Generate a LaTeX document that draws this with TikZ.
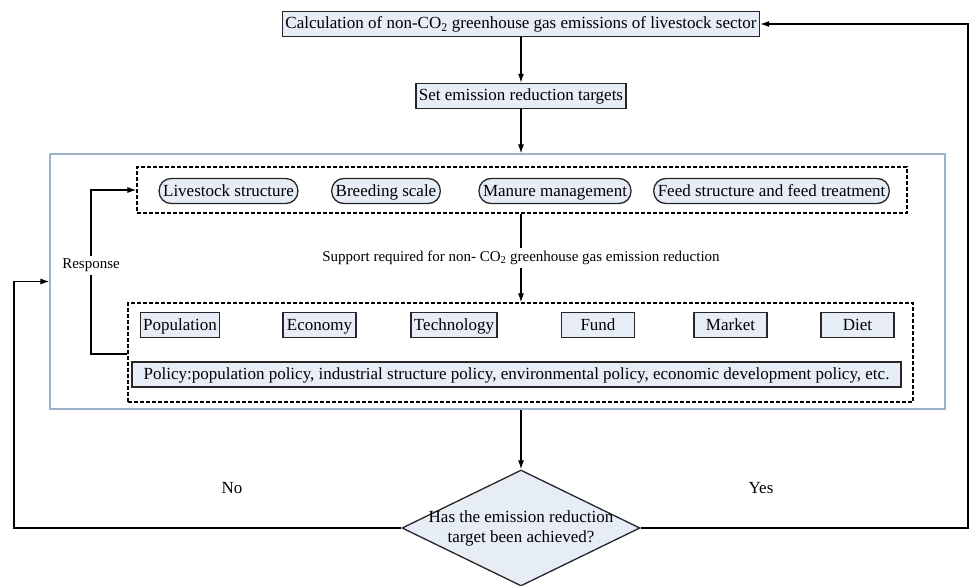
\documentclass[tikz,border=0pt]{standalone}
\usepackage{fontspec}
\setmainfont{Liberation Serif}
\usepackage{tikz}
\usetikzlibrary{calc, arrows.meta, shapes, positioning}
\tikzset{>={Latex[length=9pt,width=6pt]}}
\definecolor{myfill}{RGB}{231, 237, 247}
\definecolor{myframe}{RGB}{155, 178, 202}
\tikzset{
  box/.style={draw=black!85, line width=1.3pt, fill=myfill, inner sep=3pt, text height=13pt, text depth=3pt, minimum height=25pt},
  pill/.style={box, rounded corners=12pt, inner xsep=4pt},
  factor/.style={box, minimum width=73pt},
  group/.style={draw, dash pattern=on 4pt off 2pt, line width=1.2pt},
  decision/.style={diamond, draw=black!85, line width=1.3pt, fill=myfill, minimum width=238pt, minimum height=116pt, inner sep=0pt},
  smalltext/.style={font=\fontsize{15}{18}\selectfont}
}

\begin{document}
\begin{tikzpicture}[x=1pt, y=-1pt, line width=1.2pt, every node/.style={font=\fontsize{17}{20}\selectfont}]
\useasboundingbox (0,0) rectangle (970,586);
\node[box] (calc) at (521,24) {Calculation of non-CO\textsubscript{2} greenhouse gas emissions of livestock sector};
\node[box] (target) at (521,96) {Set emission reduction targets};
\node[draw=myframe, minimum width=895pt, minimum height=255pt] (frame) at (497.5,281.5) {};
\node[group, minimum width=770pt, minimum height=46pt] (upper) at (522,190) {};
\node[group, minimum width=785pt, minimum height=99pt] (lower) at (520.5,352.5) {};
% measures
\node[pill] (livestock) at (228.5,191) {Livestock structure};
\node[pill] (breeding) at (386,191) {Breeding scale};
\node[pill] (manure) at (555,191) {Manure management};
\node[pill] (feed) at (771.5,191) {Feed structure and feed treatment};
% support
\node[factor] (population) at (180,325) {Population};
\node[factor] (economy) at (319.5,325) {Economy};
\node[factor] (technology) at (454,325) {Technology};
\node[factor] (fund) at (598,325) {Fund};
\node[factor] (market) at (730.5,325) {Market};
\node[factor] (diet) at (857.5,325) {Diet};
\node[box, minimum width=769pt] (policy) at (516.5,374.5) {Policy:population policy, industrial structure policy, environmental policy, economic development policy, etc.};
\node[decision] (check) at (521,528) {};
\node[align=center] (question) at (check) {Has the emission reduction\\target been achieved?};
\node (no) at (232,488) {No};
\node (yes) at (761,488) {Yes};
\coordinate (noturn) at (14,528);
\coordinate (yesturn) at (968,528);
\coordinate (respfoot) at (91,354);
\draw[->] (calc) -- (target);
\draw[->] (target) -- (target |- frame.north);
\draw[->] (target |- upper.south) -- (target |- lower.north) node[midway, fill=white, smalltext] {Support required for non- CO\textsubscript{2} greenhouse gas emission reduction};
\draw[->] (target |- frame.south) -- (check.north);
\draw[->] (respfoot -| lower.west) -- (respfoot) |- (upper.west) node[pos=0.27, fill=white, smalltext] {Response};
\draw[->] (check.west) -- (noturn) |- (frame.west);
\draw[->] (check.east) -- (yesturn) |- (calc.east);
\end{tikzpicture}
\end{document}
